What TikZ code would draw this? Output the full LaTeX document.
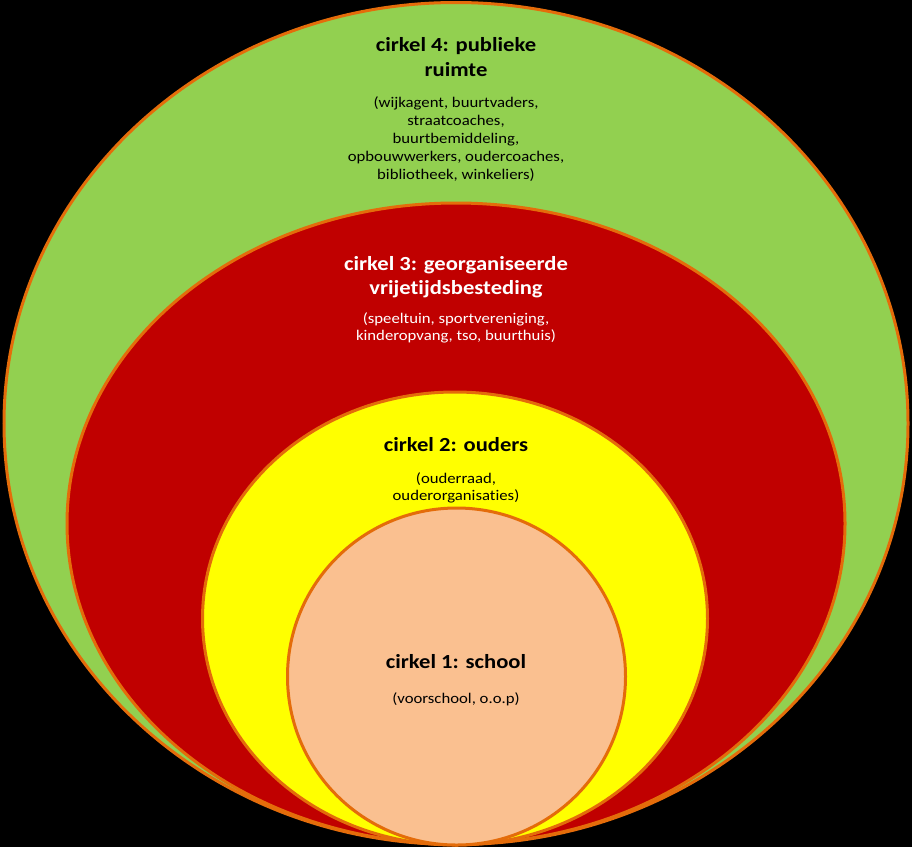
\documentclass[tikz,border=0pt]{standalone}
\usepackage{fontspec}
\setmainfont{Carlito}[FakeStretch=1.13, Ligatures={NoCommon}]
\definecolor{cgreen}{HTML}{92D050}
\definecolor{cred}{HTML}{C00000}
\definecolor{cyellow}{HTML}{FFFF00}
\definecolor{cpeach}{HTML}{FAC090}
\definecolor{ringline}{HTML}{E46C0A}
\begin{document}
\begin{tikzpicture}[x=1pt,y=-1pt,
  ring/.style={draw=ringline, line width=3pt},
  ttl/.style={anchor=base, inner sep=0pt, font=\fontsize{20}{25}\selectfont\bfseries},
  sub/.style={anchor=base, inner sep=0pt, font=\fontsize{14.8}{18}\selectfont}]
\fill[black] (0,0) rectangle (912,847);
\useasboundingbox (0,0) rectangle (912,847);
% rings
\draw[ring, fill=cgreen]  (456,423.5) ellipse [x radius=452, y radius=421];
\draw[ring, fill=cred]    (456,523.5) ellipse [x radius=389, y radius=320.5];
\draw[ring, fill=cyellow] (455,618.5) ellipse [x radius=252.5, y radius=226.5];
\draw[ring, fill=cpeach]  (456.5,676.5) ellipse [x radius=169, y radius=168.5];
% circle 4
\node[ttl] (t4a) at (456,51) {cirkel 4: publieke};
\node[ttl] (t4b) at (456,76) {ruimte};
\node[sub] (s4a) at (456,107) {(wijkagent, buurtvaders,};
\node[sub] (s4b) at (456,125) {straatcoaches,};
\node[sub] (s4c) at (456,143) {buurtbemiddeling,};
\node[sub] (s4d) at (456,161) {opbouwwerkers, oudercoaches,};
\node[sub] (s4e) at (456,179) {bibliotheek, winkeliers)};
% circle 3
\node[ttl, text=white] (t3a) at (456,270) {cirkel 3: georganiseerde};
\node[ttl, text=white] (t3b) at (456,294) {vrijetijdsbesteding};
\node[sub, text=white] (s3a) at (456,323) {(speeltuin, sportvereniging,};
\node[sub, text=white] (s3b) at (456,340.5) {kinderopvang, tso, buurthuis)};
% circle 2
\node[ttl] (t2a) at (456,451) {cirkel 2: ouders};
\node[sub] (s2a) at (456,483) {(ouderraad,};
\node[sub] (s2b) at (456,500) {ouderorganisaties)};
% circle 1
\node[ttl] (t1a) at (456,668.5) {cirkel 1: school};
\node[sub] (s1a) at (456,703.5) {(voorschool, o.o.p)};
\end{tikzpicture}
\end{document}
